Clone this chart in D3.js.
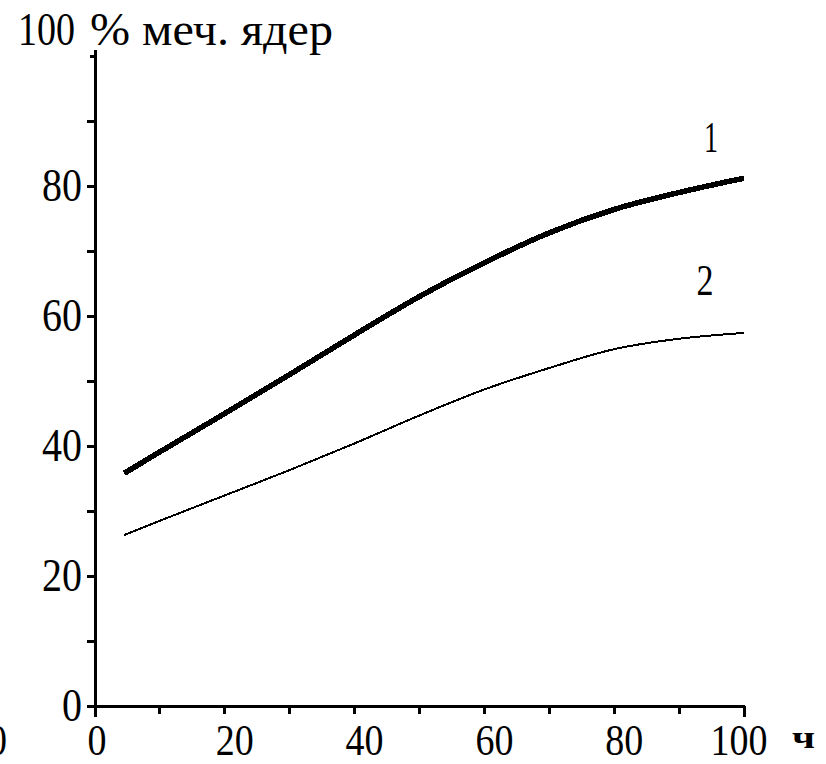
<!DOCTYPE html>
<html>
<head>
<meta charset="utf-8">
<script src="https://d3js.org/d3.v7.min.js"></script>
<style>
body { margin: 0; background: #fff; }
text { font-family: "Liberation Serif", "DejaVu Serif", serif; fill: #000; }
.ax { stroke: #000; shape-rendering: crispEdges; }
.curve { fill: none; stroke: #000; shape-rendering: crispEdges; }
</style>
</head>
<body>
<div id="chart"></div>
<script>
// hours
var hours1 = [4.5, 10, 20, 30, 40, 50, 60, 70, 80, 90, 100];
// curve 1: % labelled nuclei
var curve1 = [35.8, 39.1, 45.0, 51.0, 57.1, 63.0, 68.2, 72.8, 76.4, 79.0, 81.2];
// curve 2
var curve2 = [26.3, 28.5, 32.4, 36.3, 40.4, 44.7, 48.7, 52.0, 54.9, 56.5, 57.4];

var xLabels = ["0", "20", "40", "60", "80", "100"];
var yLabels = ["0", "20", "40", "60", "80"];
var yTitle = "% меч. ядер";
var xTitle = "ч";

var W = 826, H = 764;
var x = d3.scaleLinear().domain([0, 100]).range([95, 744]);
var y = d3.scaleLinear().domain([0, 100]).range([706, 56]);

var svg = d3.select("#chart").append("svg")
    .attr("width", W).attr("height", H);

// axis lines
svg.append("line").attr("class", "ax").attr("stroke-width", 3)
    .attr("x1", x(0)).attr("x2", x(0)).attr("y1", y(100) - 6).attr("y2", y(0) + 1);
svg.append("line").attr("class", "ax").attr("stroke-width", 3)
    .attr("x1", x(0) - 1).attr("x2", x(100) + 1).attr("y1", y(0)).attr("y2", y(0));

var ticks = d3.range(0, 101, 10);
// y ticks
svg.selectAll(".yt").data(ticks).enter().append("line")
    .attr("class", "ax").attr("stroke-width", 3)
    .attr("x1", function(d) { return d == 100 ? x(0) - 5 : x(0) - 8; })
    .attr("x2", x(0))
    .attr("y1", function(d) { return y(d); })
    .attr("y2", function(d) { return y(d); });
// x ticks
svg.selectAll(".xt").data(ticks).enter().append("line")
    .attr("class", "ax").attr("stroke-width", 3)
    .attr("x1", function(d) { return x(d); })
    .attr("x2", function(d) { return x(d); })
    .attr("y1", y(0))
    .attr("y2", function(d) { return (d == 0 || d == 100) ? y(0) + 11 : y(0) + 8; });

// y tick labels
svg.selectAll(".yl").data(yLabels).enter().append("text")
    .attr("x", 82).attr("y", function(d) { return y(+d) + 15; })
    .attr("text-anchor", "end")
    .attr("font-size", 46)
    .attr("textLength", function(d) { return d.length * 20; })
    .attr("lengthAdjust", "spacingAndGlyphs")
    .text(function(d) { return d; });

// top "100" with the axis title
svg.append("text").attr("x", 18).attr("y", 45)
    .attr("font-size", 46)
    .attr("textLength", 57).attr("lengthAdjust", "spacingAndGlyphs")
    .text("100");
svg.append("text").attr("x", 90).attr("y", 45)
    .attr("font-size", 46)
    .attr("textLength", 243).attr("lengthAdjust", "spacingAndGlyphs")
    .text(yTitle);

// x tick labels
svg.selectAll(".xl").data(xLabels).enter().append("text")
    .attr("x", function(d) {
        var v = +d;
        if (v == 0) return x(v) + 2;
        if (v == 100) return x(v) - 5;
        return x(v) + 10;
    })
    .attr("y", 755)
    .attr("text-anchor", "middle")
    .attr("font-size", 44)
    .attr("textLength", function(d) { return d.length * 19; })
    .attr("lengthAdjust", "spacingAndGlyphs")
    .text(function(d) { return d; });

// clipped label at the far left
svg.append("text").attr("x", 7).attr("y", 755)
    .attr("text-anchor", "end").attr("font-size", 44)
    .attr("textLength", 19).attr("lengthAdjust", "spacingAndGlyphs")
    .text("0");

svg.append("text").attr("x", 792).attr("y", 748)
    .attr("font-size", 32).attr("font-weight", "bold")
    .attr("textLength", 23).attr("lengthAdjust", "spacingAndGlyphs")
    .text(xTitle);

// curves
var line = d3.line()
    .x(function(d) { return x(d[0]); })
    .y(function(d) { return y(d[1]); })
    .curve(d3.curveMonotoneX);

svg.append("path").attr("class", "curve").attr("stroke-width", 5.5)
    .attr("d", line(d3.zip(hours1, curve1)));
svg.append("path").attr("class", "curve").attr("stroke-width", 2)
    .attr("d", line(d3.zip(hours1, curve2)));

// curve numbers
svg.append("text").attr("x", 711).attr("y", 152).attr("text-anchor", "middle")
    .attr("font-size", 44).attr("textLength", 14).attr("lengthAdjust", "spacingAndGlyphs")
    .text("1");
svg.append("text").attr("x", 705).attr("y", 295).attr("text-anchor", "middle")
    .attr("font-size", 44).attr("textLength", 17).attr("lengthAdjust", "spacingAndGlyphs")
    .text("2");
</script>
</body>
</html>
